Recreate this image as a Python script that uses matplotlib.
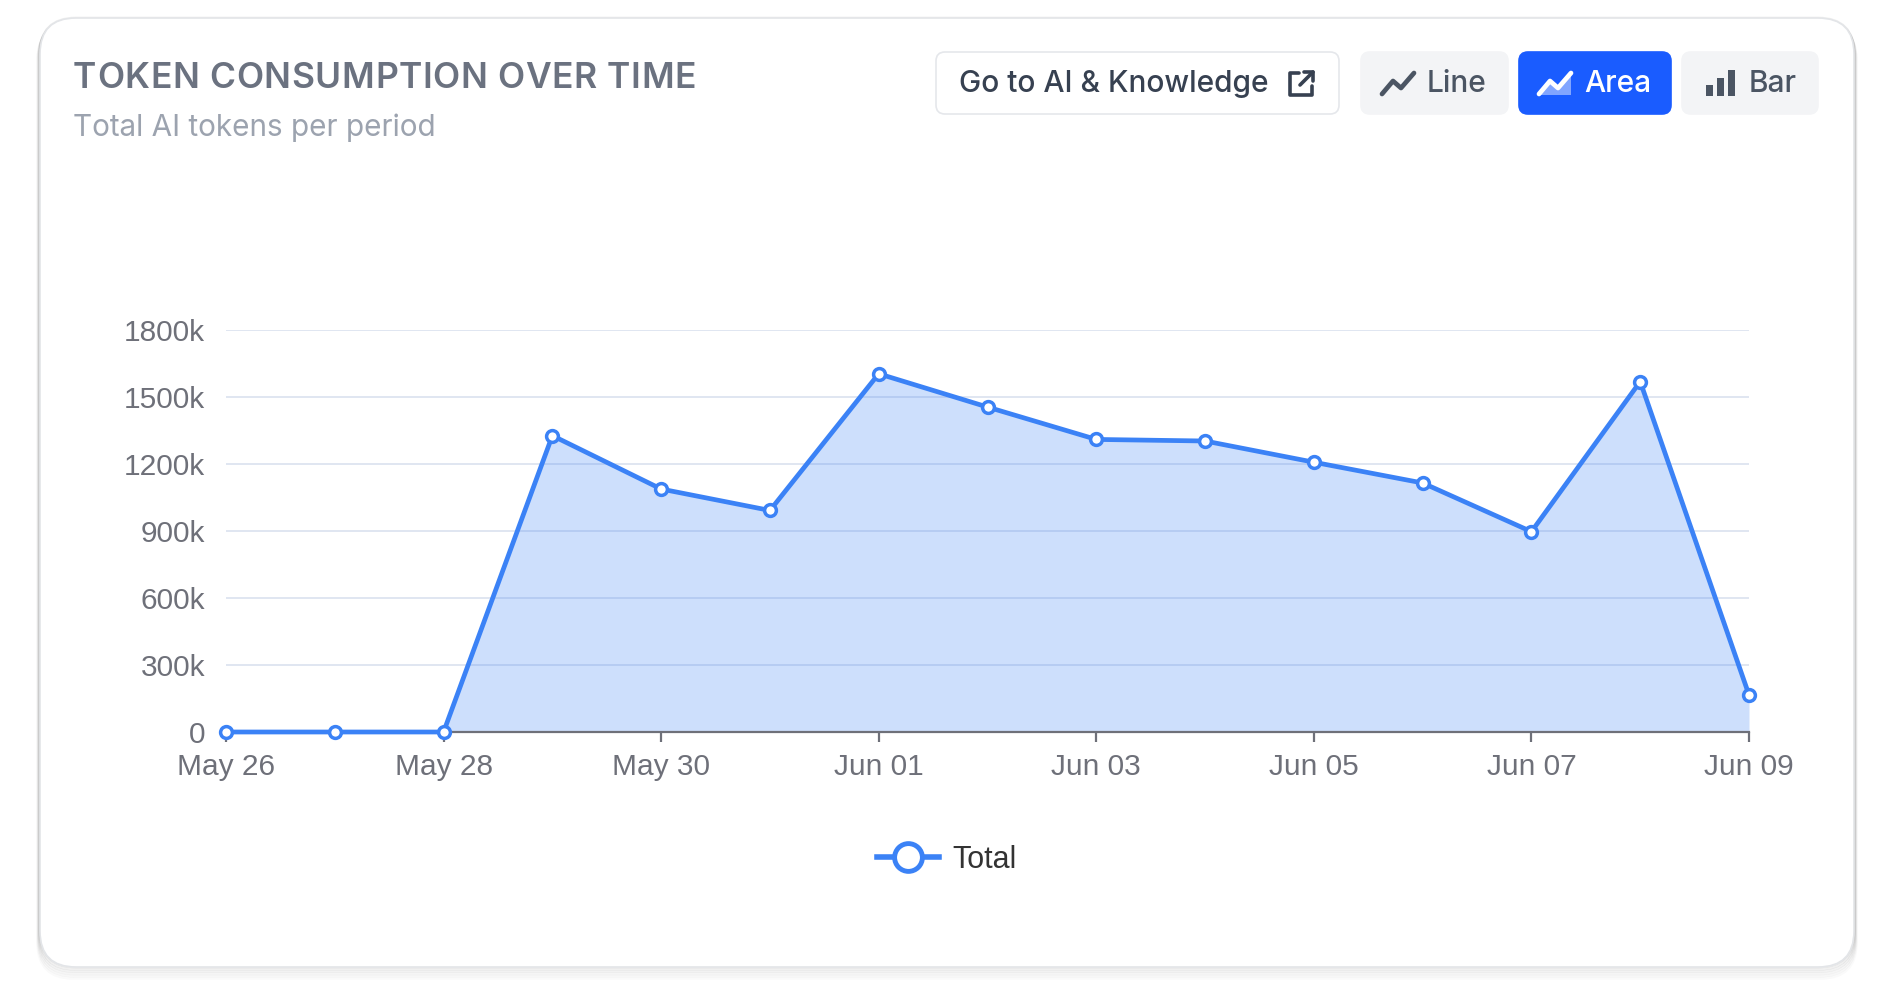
import matplotlib
matplotlib.use("Agg")
import matplotlib.pyplot as plt
from matplotlib.patches import FancyBboxPatch, Rectangle, Polygon
from matplotlib.lines import Line2D
import numpy as np

# ---------------- data ----------------
dates = ["May 26", "May 27", "May 28", "May 29", "May 30", "May 31", "Jun 01",
         "Jun 02", "Jun 03", "Jun 04", "Jun 05", "Jun 06", "Jun 07", "Jun 08", "Jun 09"]
totals = [0, 0, 0, 1327000, 1088000, 992000, 1604000,
          1455000, 1310000, 1303000, 1208000, 1115000, 897000, 1569000, 166000]
y_ticks = [0, 300000, 600000, 900000, 1200000, 1500000, 1800000]
series_name = "Total"
title = "TOKEN CONSUMPTION OVER TIME"
subtitle = "Total AI tokens per period"
buttons = ["Go to AI & Knowledge", "Line", "Area", "Bar"]

W, H = 1895, 992
fig = plt.figure(figsize=(W / 100, H / 100), dpi=100)
fig.patch.set_facecolor("white")
renderer = fig.canvas.get_renderer()

# pixel overlay axes for the card / header
bg = fig.add_axes([0, 0, 1, 1], zorder=0)
bg.set_xlim(0, W)
bg.set_ylim(H, 0)
bg.axis("off")


def spaced_text(x, y, s, target_width, **kw):
    """Draw text char by char with uniform tracking to reach target width (px)."""
    widths = []
    for ch in s:
        t = bg.text(0, 0, ch if ch != " " else "\u00a0", **kw)
        widths.append(t.get_window_extent(renderer).width)
        t.remove()
    sp = (target_width - sum(widths)) / (len(s) - 1)
    cx = x
    for ch, w in zip(s, widths):
        if ch != " ":
            bg.text(cx, y, ch, ha="left", va="center", **kw)
        cx += w + sp


# card shadow
for i, a in enumerate([0.06, 0.06, 0.05, 0.04, 0.03, 0.02]):
    bg.add_patch(FancyBboxPatch((40 - i * 0.5, 18 + i * 1.3), 1814 + i, 949 + i * 1.0,
                                boxstyle="round,pad=0,rounding_size=36",
                                fc="none", ec=(0, 0, 0, a), lw=2.0))
bg.add_patch(FancyBboxPatch((40, 18), 1814, 949, boxstyle="round,pad=0,rounding_size=36",
                            fc="white", ec="#e3e5e8", lw=1.2))

# header texts
spaced_text(73, 78, title, 623, fontsize=25.5, fontfamily="Inter", fontweight="semibold",
            color="#6b7280")
bg.text(73, 128, subtitle, fontsize=21.4, fontfamily="Inter", color="#9ca3af",
        va="center", ha="left")

# buttons
def button(x0, x1, fc, ec=None):
    bg.add_patch(FancyBboxPatch((x0, 52), x1 - x0, 62, boxstyle="round,pad=0,rounding_size=9",
                                fc=fc, ec=ec if ec else fc, lw=1.2))

button(936, 1339, "white", "#e5e7eb")
button(1361, 1508, "#f3f4f6")
button(1519, 1671, "#1a5cff")
button(1682, 1818, "#f3f4f6")

btn_fs = 21.5
bg.text(959, 84, buttons[0], fontsize=btn_fs, fontfamily="Inter", fontweight="medium",
        color="#374151", va="center", ha="left")
bg.text(1427, 84, buttons[1], fontsize=btn_fs, fontfamily="Inter", fontweight="medium",
        color="#4b5563", va="center", ha="left")
bg.text(1584, 84, buttons[2], fontsize=btn_fs, fontfamily="Inter", fontweight="medium",
        color="white", va="center", ha="left")
bg.text(1749, 84, buttons[3], fontsize=btn_fs, fontfamily="Inter", fontweight="medium",
        color="#4b5563", va="center", ha="left")

# external link icon
ex, ey = 1290, 72
ic = "#374151"
bg.plot([ex + 9, ex, ex, ex + 22, ex + 22], [ey + 1, ey + 1, ey + 23, ey + 23, ey + 14],
        color=ic, lw=2.6, solid_capstyle="round", solid_joinstyle="round")
bg.plot([ex + 10, ex + 23], [ey + 13, ey], color=ic, lw=2.6, solid_capstyle="round")
bg.plot([ex + 14, ex + 23, ex + 23], [ey, ey, ey + 9], color=ic, lw=2.6,
        solid_capstyle="round", solid_joinstyle="round")

# line icon
zig = np.array([[0, 24], [11, 11], [19, 18], [32, 3]], dtype=float)
lx, ly = 1382, 70
bg.plot(zig[:, 0] + lx, zig[:, 1] + ly, color="#4b5563", lw=3.4,
        solid_capstyle="round", solid_joinstyle="round")
# area icon
axx, axy = 1539, 70
poly = np.vstack([zig + [axx, axy], [[axx + 32, axy + 25], [axx, axy + 25]]])
bg.add_patch(Polygon(poly, closed=True, fc=(1, 1, 1, 0.45), ec="none"))
bg.plot(zig[:, 0] + axx, zig[:, 1] + axy, color="white", lw=3.4,
        solid_capstyle="round", solid_joinstyle="round")
# bar icon
for bx, bh in [(1706, 11), (1717, 18), (1728, 26)]:
    bg.add_patch(Rectangle((bx, 96 - bh), 7, bh, fc="#4b5563", ec="none"))

# ---------------- chart ----------------
left, right, top, bottom = 226, 1749, 330, 732
ax = fig.add_axes([left / W, 1 - bottom / H, (right - left) / W, (bottom - top) / H], zorder=2)
ax.patch.set_alpha(0)
x = np.arange(len(dates))
blue = "#3b82f6"
ax.fill_between(x, totals, 0, color=blue, alpha=0.25, lw=0, zorder=2)
ax.plot(x, totals, color=blue, lw=3.4, marker="o", markersize=8.5, markerfacecolor="white",
        markeredgecolor=blue, markeredgewidth=2.5, clip_on=False, zorder=4)

ax.set_xlim(0, len(dates) - 1)
ax.set_ylim(0, 1800000)
ax.set_yticks(y_ticks)
ax.set_yticklabels(["0" if v == 0 else f"{v // 1000}k" for v in y_ticks])
ax.set_xticks(x[::2])
ax.set_xticklabels(dates[::2])
ax.grid(axis="y", color="#e0e6f1", lw=1.4, zorder=0)
ax.set_axisbelow(True)
for s in ["top", "right", "left"]:
    ax.spines[s].set_visible(False)
ax.spines["bottom"].set_color("#6e7079")
ax.spines["bottom"].set_linewidth(1.6)
ax.spines["bottom"].set_zorder(3)
ax.tick_params(axis="y", length=0, pad=15, labelsize=21.5, labelcolor="#6e7079")
ax.tick_params(axis="x", length=7, width=1.6, color="#6e7079", pad=8, labelsize=21.5,
               labelcolor="#6e7079")
for lab in ax.get_xticklabels() + ax.get_yticklabels():
    lab.set_fontfamily("Liberation Sans")

# legend
handle = Line2D([], [], color=blue, lw=4, marker="o", markersize=20, markerfacecolor="white",
                markeredgecolor=blue, markeredgewidth=3.5)
leg = fig.legend([handle], [series_name], loc="center", bbox_to_anchor=(947 / W, 1 - 860 / H),
                 frameon=False, handlelength=2.0, handletextpad=0.45,
                 prop={"family": "Liberation Sans", "size": 22})
for t in leg.get_texts():
    t.set_color("#333333")

fig.savefig("out.png", dpi=100)
